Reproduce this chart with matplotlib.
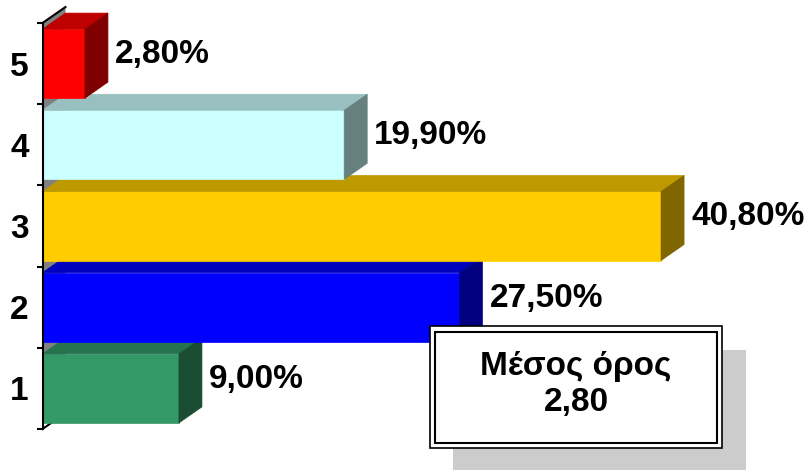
import matplotlib
matplotlib.use("Agg")
import matplotlib.pyplot as plt
from matplotlib.patches import Polygon, Rectangle

plt.rcParams['font.family'] = ['Liberation Sans', 'DejaVu Sans']

categories = [1, 2, 3, 4, 5]
values = [9.00, 27.50, 40.80, 19.90, 2.80]
front_colors = ['#339966', '#0000FF', '#FFCC00', '#CCFFFF', '#FF0000']
top_colors = ['#267350', '#0000BF', '#BF9900', '#99C0C0', '#BF0000']
side_colors = ['#1A4D33', '#000080', '#806600', '#668080', '#800000']
mean_title = 'Μέσος όρος'
mean_value = '2,80'

W, H = 811, 470
fig = plt.figure(figsize=(W / 100, H / 100), dpi=100)
ax = fig.add_axes([42.5 / W, 41 / H, 755 / W, 406 / H])
ax.set_xlim(0, 49.8)
ax.set_ylim(0.5, 5.5)

# depth offset in pixels -> data units
DX_PX, DY_PX = 23, 16
p0 = ax.transData.transform((0, 0))
p1 = ax.transData.transform((1, 1))
ddx = DX_PX / (p1[0] - p0[0])
ddy = DY_PX / (p1[1] - p0[1])

h = 0.425

# side wall
wall_lo = categories[0] - h
ax.add_patch(Polygon([(0, wall_lo), (0, 5.5), (ddx, 5.5 + ddy), (ddx, wall_lo + ddy)],
                     closed=True, facecolor='#808080', edgecolor='none', zorder=1, clip_on=False))
ax.plot([0, ddx], [5.5, 5.5 + ddy], color='black', lw=1.5, zorder=1.5, clip_on=False)
ax.plot([0, ddx], [0.5, 0.5 + ddy], color='black', lw=1.5, zorder=1.5, clip_on=False)

for i, (c, v) in enumerate(zip(categories, values)):
    z = 2 + i
    ax.barh(c, v, height=2 * h, color=front_colors[i], edgecolor=front_colors[i],
            lw=0.5, zorder=z, clip_on=False)
    top = Polygon([(0, c + h), (v, c + h), (v + ddx, c + h + ddy), (ddx, c + h + ddy)],
                  closed=True, facecolor=top_colors[i], edgecolor=top_colors[i], lw=0.5,
                  zorder=z, clip_on=False)
    side = Polygon([(v, c - h), (v + ddx, c - h + ddy), (v + ddx, c + h + ddy), (v, c + h)],
                   closed=True, facecolor=side_colors[i], edgecolor=side_colors[i], lw=0.5,
                   zorder=z, clip_on=False)
    ax.add_patch(top)
    ax.add_patch(side)
    label = f"{v:.2f}%".replace('.', ',')
    ax.annotate(label, xy=(v + ddx, c), xytext=(7, 9), textcoords='offset pixels',
                ha='left', va='center', fontsize=24, fontweight='bold', color='black',
                zorder=20, annotation_clip=False)

for s in ['top', 'right', 'bottom']:
    ax.spines[s].set_visible(False)
ax.spines['left'].set_linewidth(1.5)
ax.spines['left'].set_zorder(30)
ax.set_xticks([])
ax.set_yticks(categories)
ax.set_yticklabels([str(c) for c in categories], fontsize=24, fontweight='bold')
ax.set_yticks([c - 0.5 for c in categories] + [categories[-1] + 0.5], minor=True)
ax.tick_params(axis='y', which='major', length=0, pad=10)
ax.tick_params(axis='y', which='minor', length=4.5, width=1.5, direction='out')
ax.patch.set_visible(False)

# mean box with shadow and double border
fig.patches.append(Rectangle((453 / W, 0), 293 / W, 120 / H, transform=fig.transFigure,
                             facecolor='#CCCCCC', edgecolor='none', zorder=40))
fig.patches.append(Rectangle((430 / W, 22 / H), 292 / W, 122 / H, transform=fig.transFigure,
                             facecolor='white', edgecolor='black', lw=1.2, zorder=41))
fig.patches.append(Rectangle((435 / W, 27 / H), 282 / W, 111 / H, transform=fig.transFigure,
                             facecolor='white', edgecolor='black', lw=1.5, zorder=42))
fig.text(576 / W, 103 / H, mean_title, ha='center', va='center', fontsize=24,
         fontweight='bold', zorder=50)
fig.text(576 / W, 68 / H, mean_value, ha='center', va='center', fontsize=24,
         fontweight='bold', zorder=50)

fig.savefig('out.png', dpi=100)
